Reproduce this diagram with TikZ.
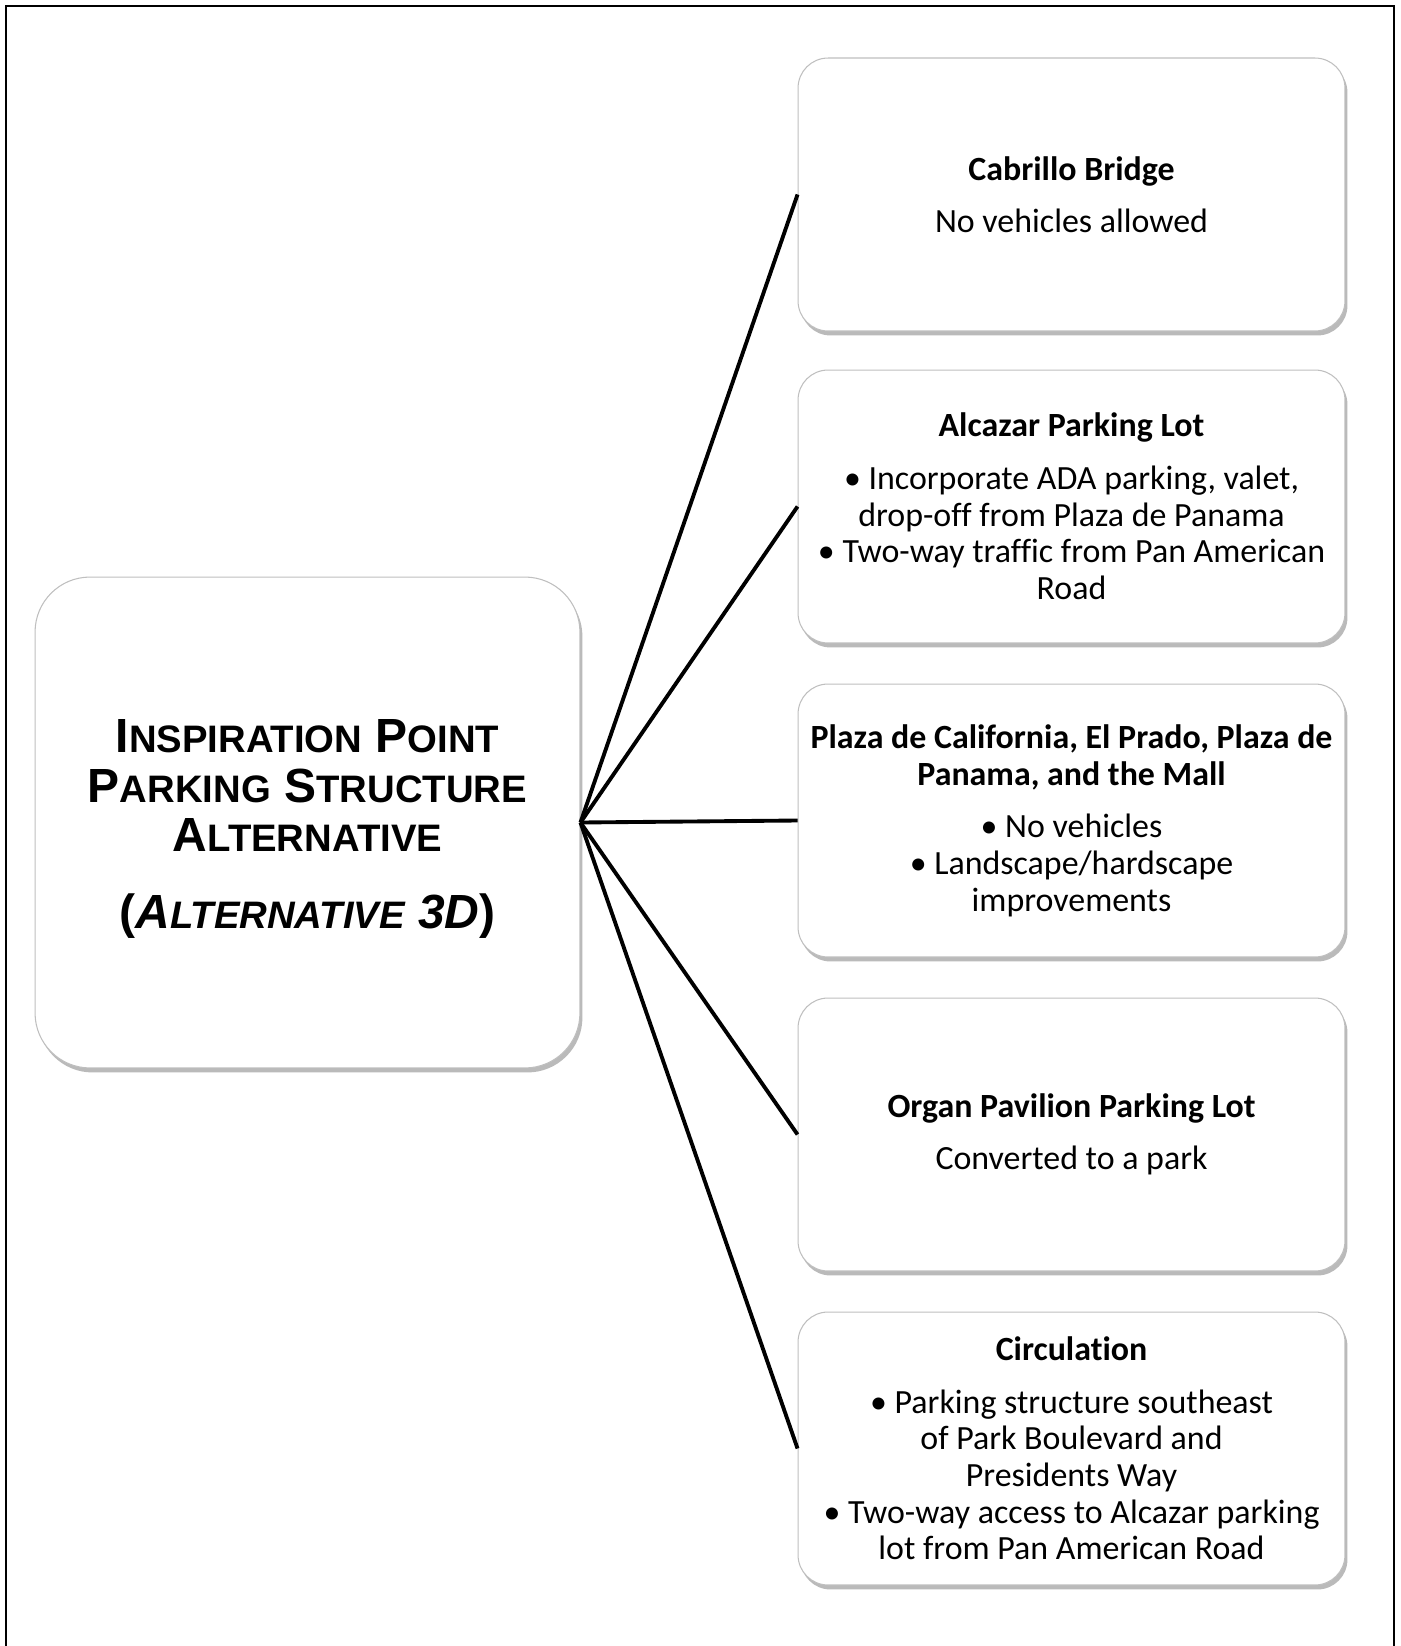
\documentclass[tikz,border=0pt]{standalone}
\usepackage{fontspec}
\setmainfont{Carlito}[Ligatures=NoCommon]
\newfontfamily\arialfont{Liberation Sans}
\usetikzlibrary{shadows}

\newcommand{\smcap}[1]{{\fontsize{21.8}{28.2}\selectfont #1}}

\begin{document}
\begin{tikzpicture}[x=0.02cm, y=-0.02cm,
  box/.style={draw=black!25, line width=0.6pt, fill=white, align=center,
    drop shadow={shadow xshift=0.5mm, shadow yshift=-0.9mm, opacity=0.45, fill=black!60}},
  mainbox/.style={box, rounded corners=1.1cm, minimum width=10.9cm, minimum height=9.82cm,
    font=\arialfont\bfseries\fontsize{27.3}{28.2}\selectfont},
  infobox/.style={box, rounded corners=0.6cm, minimum width=10.94cm, minimum height=5.46cm,
    font=\fontsize{19.3}{20.9}\selectfont},
  link/.style={line width=2.2pt}]
  \useasboundingbox (0,0) rectangle (1400,1646);
  \draw[line width=1.6pt] (6,1646) -- (6,6) -- (1394,6) -- (1394,1646);

  \node[mainbox] (L) at (307.5,822.5)
    {\rule{0pt}{0.92cm}I\smcap{NSPIRATION} P\smcap{OINT}\\
     P\smcap{ARKING} S\smcap{TRUCTURE}\\
     A\smcap{LTERNATIVE}\\[15.6pt]
     (\textit{A\smcap{LTERNATIVE} 3D})};

  \node[infobox] (B1) at (1071.5,194.5)
    {\textbf{Cabrillo Bridge}\\[9pt] No vehicles allowed};
  \node[infobox] (B2) at (1071.5,506.5)
    {\textbf{Alcazar Parking Lot}\\[9pt]
     • Incorporate ADA parking, valet,\\ drop-off from Plaza de Panama\\
     • Two-way traffic from Pan American\\ Road};
  \node[infobox] (B3) at (1071.5,820.5)
    {\textbf{Plaza de California, El Prado, Plaza de}\\ \textbf{Panama, and the Mall}\\[9pt]
     • No vehicles\\ • Landscape/hardscape\\ improvements};
  \node[infobox] (B4) at (1071.5,1134.5)
    {\textbf{Organ Pavilion Parking Lot}\\[9pt] Converted to a park};
  \node[infobox] (B5) at (1071.5,1448.5)
    {\textbf{Circulation}\\[9pt]
     • Parking structure southeast\\ of Park Boulevard and\\ Presidents Way\\
     • Two-way access to Alcazar parking\\ lot from Pan American Road};

  \foreach \b in {B1,B2,B3,B4,B5}
    \draw[link] (L.east) -- (\b.west);
\end{tikzpicture}
\end{document}
